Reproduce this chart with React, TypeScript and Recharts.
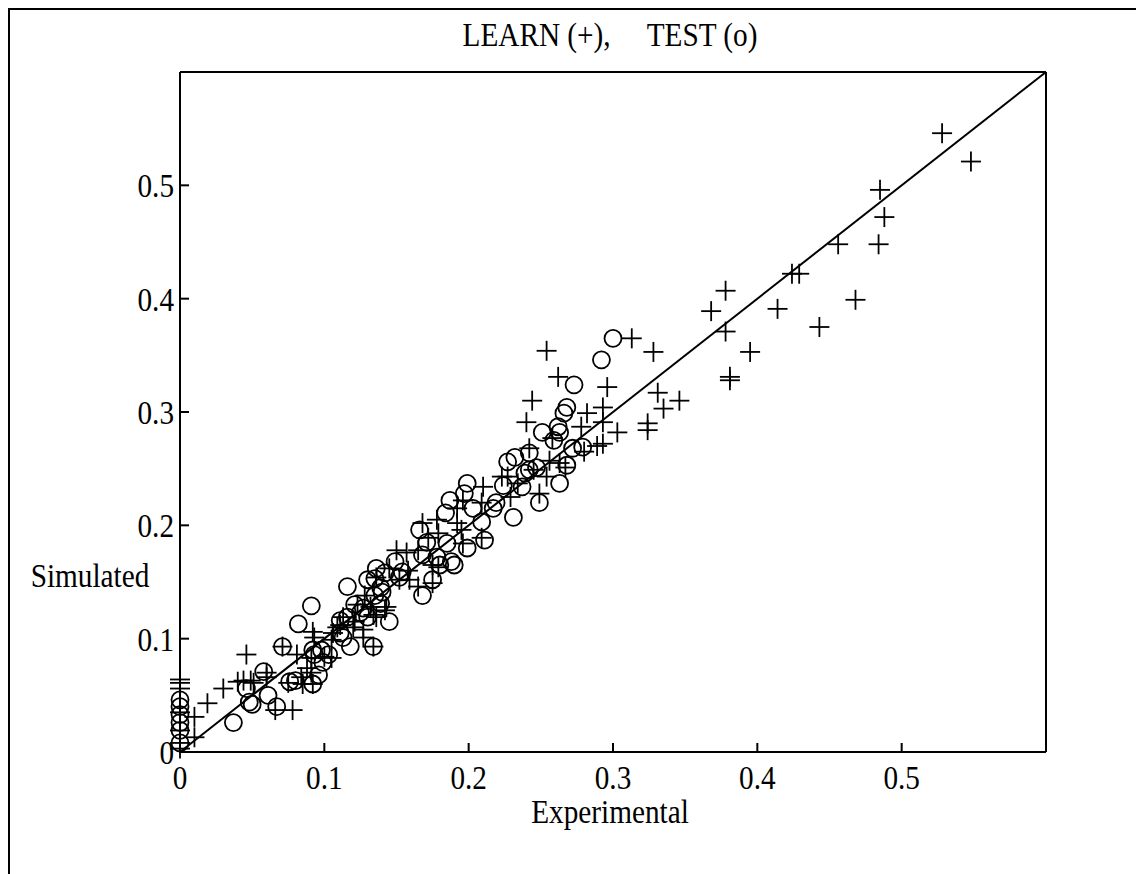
import React from "react";
import {
  ScatterChart,
  Scatter,
  XAxis,
  YAxis,
  ReferenceLine,
} from "recharts";

// LEARN (+) points: [experimental, simulated]
const learnPoints: [number, number][] = [
  [0.528, 0.546], [0.548, 0.521], [0.485, 0.496], [0.488, 0.472], [0.484, 0.448],
  [0.456, 0.448], [0.468, 0.399], [0.424, 0.422], [0.429, 0.422], [0.414, 0.391],
  [0.443, 0.375], [0.395, 0.353], [0.378, 0.407], [0.368, 0.389], [0.378, 0.371],
  [0.381, 0.331], [0.381, 0.328], [0.313, 0.365], [0.328, 0.353], [0.296, 0.322],
  [0.293, 0.304], [0.331, 0.317], [0.346, 0.31], [0.335, 0.303], [0.324, 0.29],
  [0.324, 0.284], [0.303, 0.282], [0.293, 0.291], [0.293, 0.272], [0.254, 0.354],
  [0.262, 0.331], [0.244, 0.31], [0.24, 0.291], [0.282, 0.299], [0.278, 0.287],
  [0.258, 0.277], [0.289, 0.27], [0.28, 0.265], [0.242, 0.268], [0.256, 0.257],
  [0.245, 0.249], [0.263, 0.255], [0.267, 0.251], [0.227, 0.243], [0.234, 0.237],
  [0.223, 0.243], [0.254, 0.243], [0.249, 0.228], [0.21, 0.234], [0.229, 0.225],
  [0.209, 0.22], [0.196, 0.222], [0.192, 0.215], [0.178, 0.205], [0.192, 0.202],
  [0.195, 0.196], [0.168, 0.202], [0.172, 0.189], [0.179, 0.193], [0.196, 0.184],
  [0.209, 0.189], [0.15, 0.178], [0.157, 0.176], [0.165, 0.178], [0.179, 0.163],
  [0.175, 0.165], [0.145, 0.162], [0.158, 0.16], [0.159, 0.152], [0.152, 0.152],
  [0.175, 0.149], [0.165, 0.146], [0.136, 0.154], [0.128, 0.138], [0.123, 0.13],
  [0.132, 0.128], [0.143, 0.128], [0.134, 0.121], [0.142, 0.125], [0.136, 0.119],
  [0.113, 0.119], [0.111, 0.112], [0.121, 0.115], [0.12, 0.11], [0.127, 0.108],
  [0.127, 0.101], [0.134, 0.093], [0.109, 0.11], [0.092, 0.106], [0.093, 0.101],
  [0.106, 0.105], [0.105, 0.099], [0.1, 0.084], [0.091, 0.083], [0.088, 0.074],
  [0.084, 0.066], [0.091, 0.07], [0.071, 0.093], [0.081, 0.086], [0.046, 0.086],
  [0.06, 0.07], [0.044, 0.063], [0.049, 0.063], [0.051, 0.061], [0.04, 0.062],
  [0.06, 0.066], [0.03, 0.056], [0.019, 0.043], [0.066, 0.037], [0.078, 0.037],
  [0.075, 0.061], [0.085, 0.06], [0.092, 0.06], [0.105, 0.083], [0.01, 0.031],
  [0.01, 0.013], [0, 0.064], [0, 0.061], [0, 0.056], [0, 0.035], [0, 0.019],
  [0, 0.008], [0, 0.003],
];

// TEST (o) points: [experimental, simulated]
const testPoints: [number, number][] = [
  [0.3, 0.365], [0.292, 0.346], [0.273, 0.324], [0.268, 0.304], [0.266, 0.299],
  [0.251, 0.282], [0.262, 0.287], [0.263, 0.282], [0.259, 0.275], [0.279, 0.269],
  [0.272, 0.268], [0.242, 0.264], [0.232, 0.26], [0.227, 0.256], [0.247, 0.251],
  [0.268, 0.253], [0.239, 0.246], [0.242, 0.249], [0.237, 0.234], [0.224, 0.235],
  [0.263, 0.237], [0.199, 0.237], [0.197, 0.228], [0.219, 0.22], [0.231, 0.207],
  [0.187, 0.222], [0.249, 0.22], [0.203, 0.215], [0.217, 0.215], [0.184, 0.211],
  [0.209, 0.203], [0.166, 0.196], [0.171, 0.185], [0.185, 0.184], [0.199, 0.18],
  [0.211, 0.187], [0.168, 0.174], [0.178, 0.172], [0.18, 0.165], [0.19, 0.165],
  [0.188, 0.168], [0.149, 0.168], [0.136, 0.162], [0.142, 0.158], [0.154, 0.159],
  [0.152, 0.154], [0.175, 0.152], [0.168, 0.138], [0.139, 0.145], [0.14, 0.141],
  [0.135, 0.153], [0.13, 0.152], [0.116, 0.146], [0.135, 0.138], [0.091, 0.129],
  [0.121, 0.13], [0.125, 0.123], [0.139, 0.131], [0.13, 0.119], [0.145, 0.115],
  [0.116, 0.119], [0.111, 0.116], [0.134, 0.093], [0.118, 0.093], [0.113, 0.101],
  [0.111, 0.105], [0.098, 0.09], [0.103, 0.086], [0.092, 0.09], [0.093, 0.086],
  [0.096, 0.068], [0.082, 0.113], [0.071, 0.093], [0.058, 0.071], [0.046, 0.056],
  [0.048, 0.044], [0.05, 0.042], [0.061, 0.05], [0.067, 0.04], [0.076, 0.062],
  [0.08, 0.063], [0.092, 0.06], [0.099, 0.079], [0.037, 0.026], [0.127, 0.127],
  [0, 0.046], [0, 0.04], [0, 0.033], [0, 0.026], [0, 0.019], [0, 0.008],
];

const xTicks = [0, 0.1, 0.2, 0.3, 0.4, 0.5];
const yTicks = [0, 0.1, 0.2, 0.3, 0.4, 0.5];
const axisDomain: [number, number] = [0, 0.6];
const identityLine = [
  { x: 0, y: 0 },
  { x: 0.6, y: 0.6 },
];

const learnData = learnPoints.map(([x, y]) => ({ x, y }));
const testData = testPoints.map(([x, y]) => ({ x, y }));

const FONT = '"Liberation Serif", "Times New Roman", serif';
const INK = "#000";
const TICK_LEN = 9;
const LABEL_SIZE = 34;
const SQUEEZE = 0.86;

const PlusMark = (props: any) => {
  const { cx, cy } = props;
  if (cx == null || cy == null) return null;
  return (
    <g stroke={INK} strokeWidth={1.8}>
      <line x1={cx - 10} y1={cy} x2={cx + 10} y2={cy} />
      <line x1={cx} y1={cy - 10} x2={cx} y2={cy + 10} />
    </g>
  );
};

const CircleMark = (props: any) => {
  const { cx, cy } = props;
  if (cx == null || cy == null) return null;
  return <circle cx={cx} cy={cy} r={8.5} fill="none" stroke={INK} strokeWidth={1.8} />;
};

const BottomTick = ({ x, y, payload }: any) => (
  <g>
    <line x1={x} y1={y} x2={x} y2={y - TICK_LEN} stroke={INK} strokeWidth={2} />
    <text
      transform={`translate(${x},${y + 37}) scale(${SQUEEZE},1)`}
      textAnchor="middle"
      fontFamily={FONT}
      fontSize={LABEL_SIZE}
      fill={INK}
    >
      {String(payload.value)}
    </text>
  </g>
);

const TopTick = ({ x, y }: any) => (
  <line x1={x} y1={y} x2={x} y2={y + TICK_LEN} stroke={INK} strokeWidth={2} />
);

const LeftTick = ({ x, y, payload }: any) => (
  <g>
    <line x1={x} y1={y} x2={x + TICK_LEN} y2={y} stroke={INK} strokeWidth={2} />
    <text
      transform={`translate(${x - 6},${y + 12}) scale(${SQUEEZE},1)`}
      textAnchor="end"
      fontFamily={FONT}
      fontSize={LABEL_SIZE}
      fill={INK}
    >
      {String(payload.value)}
    </text>
  </g>
);

const RightTick = ({ x, y }: any) => (
  <line x1={x} y1={y} x2={x - TICK_LEN} y2={y} stroke={INK} strokeWidth={2} />
);

const textStyle = (left: number, top: number): React.CSSProperties => ({
  position: "absolute",
  left,
  top,
  transform: `translate(-50%, -50%) scale(${SQUEEZE}, 1)`,
  fontFamily: FONT,
  fontSize: LABEL_SIZE,
  color: INK,
  whiteSpace: "pre",
  lineHeight: 1,
});

export default function App() {
  return (
    <div
      style={{
        position: "relative",
        width: 1134,
        height: 864,
        borderTop: "2px solid #000",
        borderLeft: "2px solid #000",
        background: "#fff",
      }}
    >
      <div style={textStyle(600, 25)}>LEARN (+),     TEST (o)</div>
      <div style={textStyle(600, 802)}>Experimental</div>
      <div style={textStyle(80, 566)}>Simulated</div>
      <ScatterChart
        width={1134}
        height={864}
        margin={{ top: 0, right: 0, bottom: 0, left: 0 }}
        style={{ position: "absolute", left: 0, top: 0 }}
      >
        <XAxis
          type="number"
          dataKey="x"
          domain={axisDomain}
          ticks={xTicks}
          height={122}
          tickSize={0}
          tickMargin={0}
          tickLine={false}
          axisLine={{ stroke: INK, strokeWidth: 2 }}
          tick={<BottomTick />}
          interval={0}
        />
        <XAxis
          xAxisId="top"
          orientation="top"
          type="number"
          dataKey="x"
          domain={axisDomain}
          ticks={xTicks}
          height={62}
          tickSize={0}
          tickMargin={0}
          tickLine={false}
          axisLine={{ stroke: INK, strokeWidth: 2 }}
          tick={<TopTick />}
          interval={0}
        />
        <YAxis
          type="number"
          dataKey="y"
          domain={axisDomain}
          ticks={yTicks}
          width={170}
          tickSize={0}
          tickMargin={0}
          tickLine={false}
          axisLine={{ stroke: INK, strokeWidth: 2 }}
          tick={<LeftTick />}
          interval={0}
        />
        <YAxis
          yAxisId="right"
          orientation="right"
          type="number"
          dataKey="y"
          domain={axisDomain}
          ticks={yTicks}
          width={98}
          tickSize={0}
          tickMargin={0}
          tickLine={false}
          axisLine={{ stroke: INK, strokeWidth: 2 }}
          tick={<RightTick />}
          interval={0}
        />
        <ReferenceLine
          segment={identityLine}
          stroke={INK}
          strokeWidth={2}
          ifOverflow="visible"
        />
        <Scatter
          name="LEARN"
          data={learnData}
          shape={<PlusMark />}
          isAnimationActive={false}
        />
        <Scatter
          name="TEST"
          data={testData}
          shape={<CircleMark />}
          isAnimationActive={false}
        />
        <Scatter
          xAxisId="top"
          yAxisId="right"
          data={[]}
          isAnimationActive={false}
        />
      </ScatterChart>
    </div>
  );
}
